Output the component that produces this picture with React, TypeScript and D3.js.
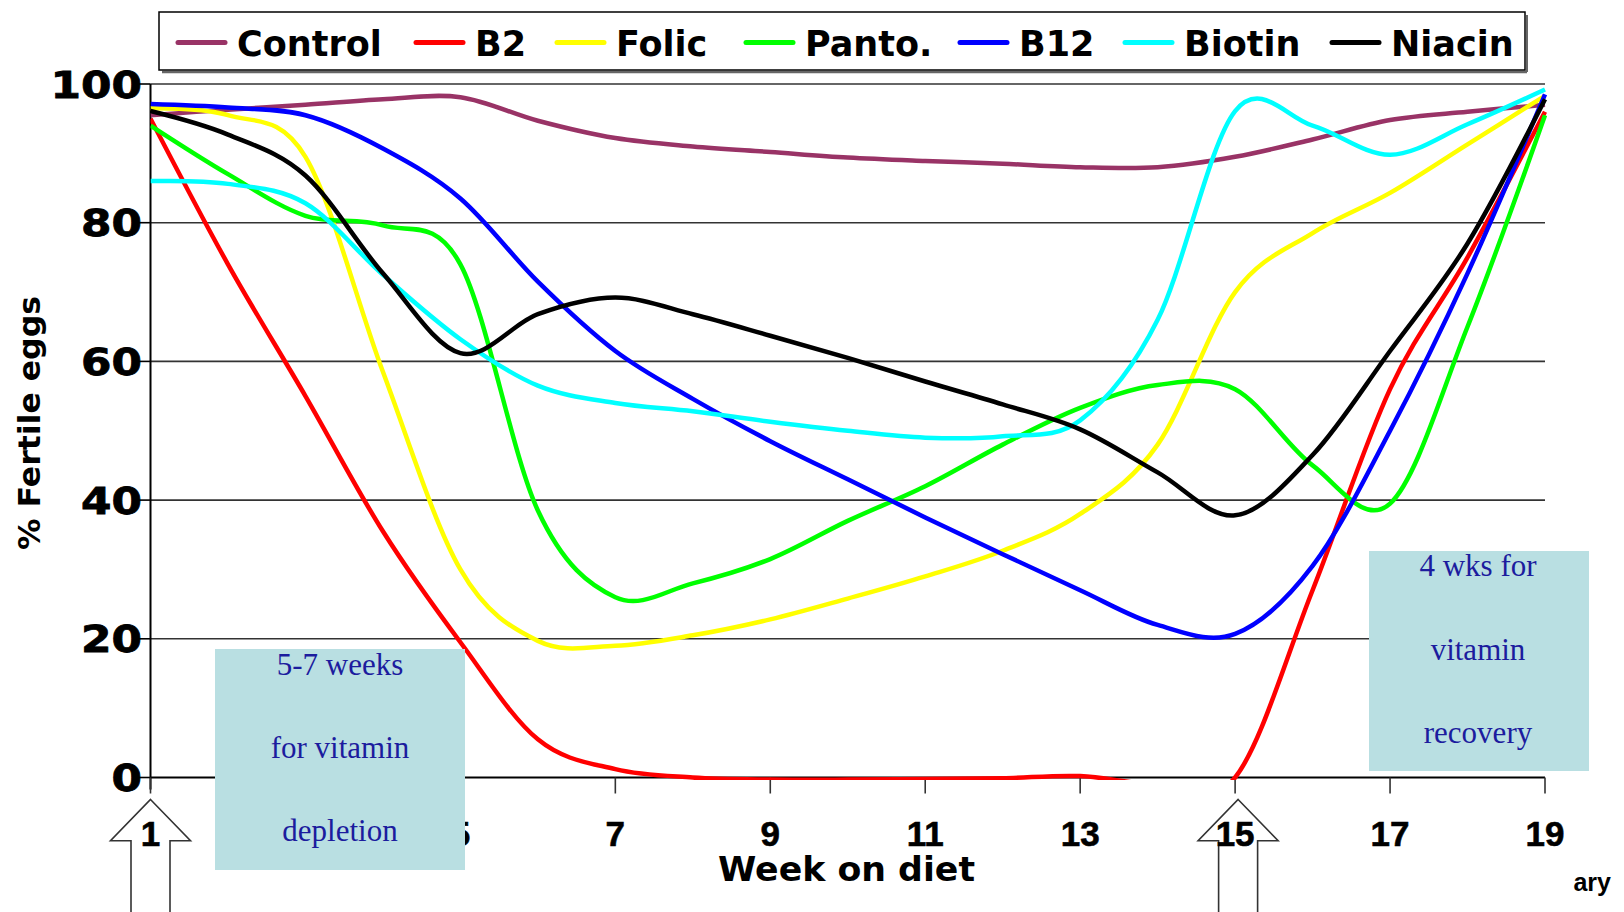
import React from 'react';
import * as d3 from 'd3';

// ---------- data ----------
const weeks = [1, 2, 3, 4, 5, 6, 7, 8, 9, 10, 11, 12, 13, 14, 15, 16, 17, 18, 19];
const control = [95.5, 96.3, 97, 97.8, 98.1, 94.7, 92.2, 91, 90.2, 89.4, 88.9, 88.5, 88, 88, 89.5, 92, 94.8, 96, 97];
const b2 = [95, 74, 55, 35.5, 19.5, 5.5, 1.2, 0, -0.3, -0.3, -0.2, -0.1, 0.2, -1, 0, 27, 56, 75, 96];
const folic = [96.5, 95.5, 89.5, 58.5, 30, 19.7, 19, 20.5, 22.8, 25.8, 29, 32.7, 38, 48, 70, 78.5, 84.3, 91.3, 98.3];
const panto = [94, 87, 81, 79.6, 74, 38.5, 26, 28, 31.5, 37, 42, 48, 53.3, 56.6, 56, 45, 39.5, 65, 95.5];
const b12 = [97.1, 96.6, 95.5, 90.7, 83.5, 71.5, 61.5, 54.6, 48.5, 43, 37.5, 32.2, 27, 22, 20.7, 30.5, 50, 72.7, 98.5];
const biotin = [86, 85.6, 82.8, 72.5, 63.2, 56.5, 54, 52.8, 51.3, 50, 49, 49.2, 51.5, 66, 96.1, 94, 89.8, 94.2, 99.2];
const niacin = [96.1, 92.7, 86.8, 72.7, 61.2, 66.8, 69.2, 66.8, 63.7, 60.5, 57.1, 53.8, 50.2, 44, 37.8, 46.5, 61.5, 77, 97.8];

const seriesNames = ['Control', 'B2', 'Folic', 'Panto.', 'B12', 'Biotin', 'Niacin'];
const seriesValues = [control, b2, folic, panto, b12, biotin, niacin];
const seriesColors = ['#993366', '#FF0000', '#FFFF00', '#00FF00', '#0000FF', '#00FFFF', '#000000'];

const yTicks = [0, 20, 40, 60, 80, 100];
const xTicks = [1, 3, 5, 7, 9, 11, 13, 15, 17, 19];
const arrowWeeks = [1, 15];

const depletionText = ['5-7 weeks', 'for vitamin', 'depletion'];
const recoveryText = ['4 wks for', 'vitamin', 'recovery'];

// ---------- layout ----------
const W = 1624;
const H = 912;
const legendItemX = [176, 414, 555, 744, 958, 1123, 1330];
const heavy = '"DejaVu Sans", Verdana, sans-serif';
const arial = '"Liberation Sans", Arial, sans-serif';
const serif = '"Liberation Serif", "Times New Roman", serif';
const boxFill = '#B9DFE2';
const boxText = '#1c1c9e';

export default function App() {
  const x = d3.scaleLinear().domain([1, 19]).range([150.5, 1545]);
  const y = d3.scaleLinear().domain([0, 100]).range([777.5, 84]);
  const x0 = x(1);
  const x1 = x(19);
  const y0 = y(0);

  const line = d3
    .line<number>()
    .x((_, i) => x(weeks[i]))
    .y((d) => y(d))
    .curve(d3.curveCardinal.tension(0));

  const arrowPath = (cx: number) => {
    const top = 799.5;
    const base = 840.7;
    const hw = 40;
    const sw = 19.5;
    return `M${cx},${top} L${cx + hw},${base} L${cx + sw},${base} L${cx + sw},${H + 10} L${cx - sw},${H + 10} L${cx - sw},${base} L${cx - hw},${base} Z`;
  };

  return (
    <svg
      width={W}
      height={H}
      viewBox={`0 0 ${W} ${H}`}
      style={{ position: 'absolute', left: 0, top: 0, background: '#fff' }}
    >
      <defs>
        <clipPath id="plotClip">
          <rect x={x0} y={60} width={x1 - x0 + 6} height={y0 + 2.5 - 60} />
        </clipPath>
      </defs>
      <rect x={0} y={0} width={W} height={H} fill="#fff" />

      {/* legend */}
      <g>
        <line x1={162} y1={72} x2={1527} y2={72} stroke="#666" strokeWidth={2.5} />
        <line x1={1527} y1={15} x2={1527} y2={72} stroke="#666" strokeWidth={2} />
        <rect x={159} y={12} width={1366} height={58} fill="#fff" stroke="#000" strokeWidth={1.5} />
        {seriesNames.map((name, i) => (
          <g key={name}>
            <line
              x1={legendItemX[i] + 2}
              x2={legendItemX[i] + 49}
              y1={42.5}
              y2={42.5}
              stroke={seriesColors[i]}
              strokeWidth={5}
              strokeLinecap="round"
            />
            <text
              x={legendItemX[i] + 61}
              y={55.5}
              fontFamily={heavy}
              fontWeight="bold"
              fontSize={35}
              fill="#000"
            >
              {name}
            </text>
          </g>
        ))}
      </g>

      {/* gridlines */}
      {yTicks
        .filter((t) => t > 0)
        .map((t) => (
          <line key={t} x1={x0} x2={x1} y1={y(t)} y2={y(t)} stroke="#333" strokeWidth={1.6} />
        ))}

      {/* arrows (beneath labels) */}
      {arrowWeeks.map((w) => (
        <path key={w} d={arrowPath(x(w) + (w === 1 ? 0 : 3))} fill="#fff" stroke="#333" strokeWidth={1.6} />
      ))}

      {/* axes */}
      <line x1={x0} x2={x1} y1={y0} y2={y0} stroke="#000" strokeWidth={2} />
      <line x1={x0} x2={x0} y1={y(100)} y2={y0 + 12} stroke="#000" strokeWidth={2} />
      {yTicks.map((t) => (
        <line key={t} x1={x0 - 14} x2={x0} y1={y(t)} y2={y(t)} stroke="#000" strokeWidth={1.6} />
      ))}
      {xTicks.map((t) => (
        <line key={t} x1={x(t)} x2={x(t)} y1={y0} y2={y0 + 16} stroke="#333" strokeWidth={1.6} />
      ))}

      {/* y tick labels */}
      {yTicks.map((t) => {
        const s = String(t);
        return (
          <text
            key={t}
            x={142}
            y={y(t) + 13.5}
            textAnchor="end"
            fontFamily={heavy}
            fontWeight="bold"
            fontSize={37}
            textLength={s.length * 30.5}
            lengthAdjust="spacingAndGlyphs"
            fill="#000"
            stroke="#000"
            strokeWidth={0.8}
          >
            {s}
          </text>
        );
      })}

      {/* x tick labels */}
      {xTicks.map((t) => (
        <text
          key={t}
          x={x(t)}
          y={846}
          textAnchor="middle"
          fontFamily={arial}
          fontWeight="bold"
          fontSize={35}
          fill="#000"
          stroke="#000"
          strokeWidth={0.6}
        >
          {t}
        </text>
      ))}

      {/* axis titles */}
      <text
        x={846.5}
        y={881}
        textAnchor="middle"
        fontFamily={heavy}
        fontWeight="bold"
        fontSize={34}
        textLength={257}
        lengthAdjust="spacingAndGlyphs"
        fill="#000"
      >
        Week on diet
      </text>
      <text
        transform="translate(40,423) rotate(-90)"
        textAnchor="middle"
        fontFamily={heavy}
        fontWeight="bold"
        fontSize={30}
        textLength={254}
        lengthAdjust="spacingAndGlyphs"
        fill="#000"
      >
        % Fertile eggs
      </text>

      {/* series lines */}
      <g clipPath="url(#plotClip)">
        {seriesValues.map((vals, i) => (
          <path
            key={seriesNames[i]}
            d={line(vals) || ''}
            fill="none"
            stroke={seriesColors[i]}
            strokeWidth={4.5}
            strokeLinejoin="round"
          />
        ))}
      </g>

      {/* annotation boxes */}
      <g>
        <rect x={215} y={649} width={250} height={221} fill={boxFill} />
        {depletionText.map((t, i) => (
          <text
            key={t}
            x={340}
            y={675 + i * 83}
            textAnchor="middle"
            fontFamily={serif}
            fontSize={31}
            fill={boxText}
          >
            {t}
          </text>
        ))}
        <rect x={1369} y={551} width={220} height={220} fill={boxFill} />
        {recoveryText.map((t, i) => (
          <text
            key={t}
            x={1478}
            y={576 + i * 83.5}
            textAnchor="middle"
            fontFamily={serif}
            fontSize={31}
            fill={boxText}
          >
            {t}
          </text>
        ))}
      </g>

      <text x={1611} y={891} textAnchor="end" fontFamily={arial} fontWeight="bold" fontSize={25} fill="#000">
        ary
      </text>
    </svg>
  );
}
